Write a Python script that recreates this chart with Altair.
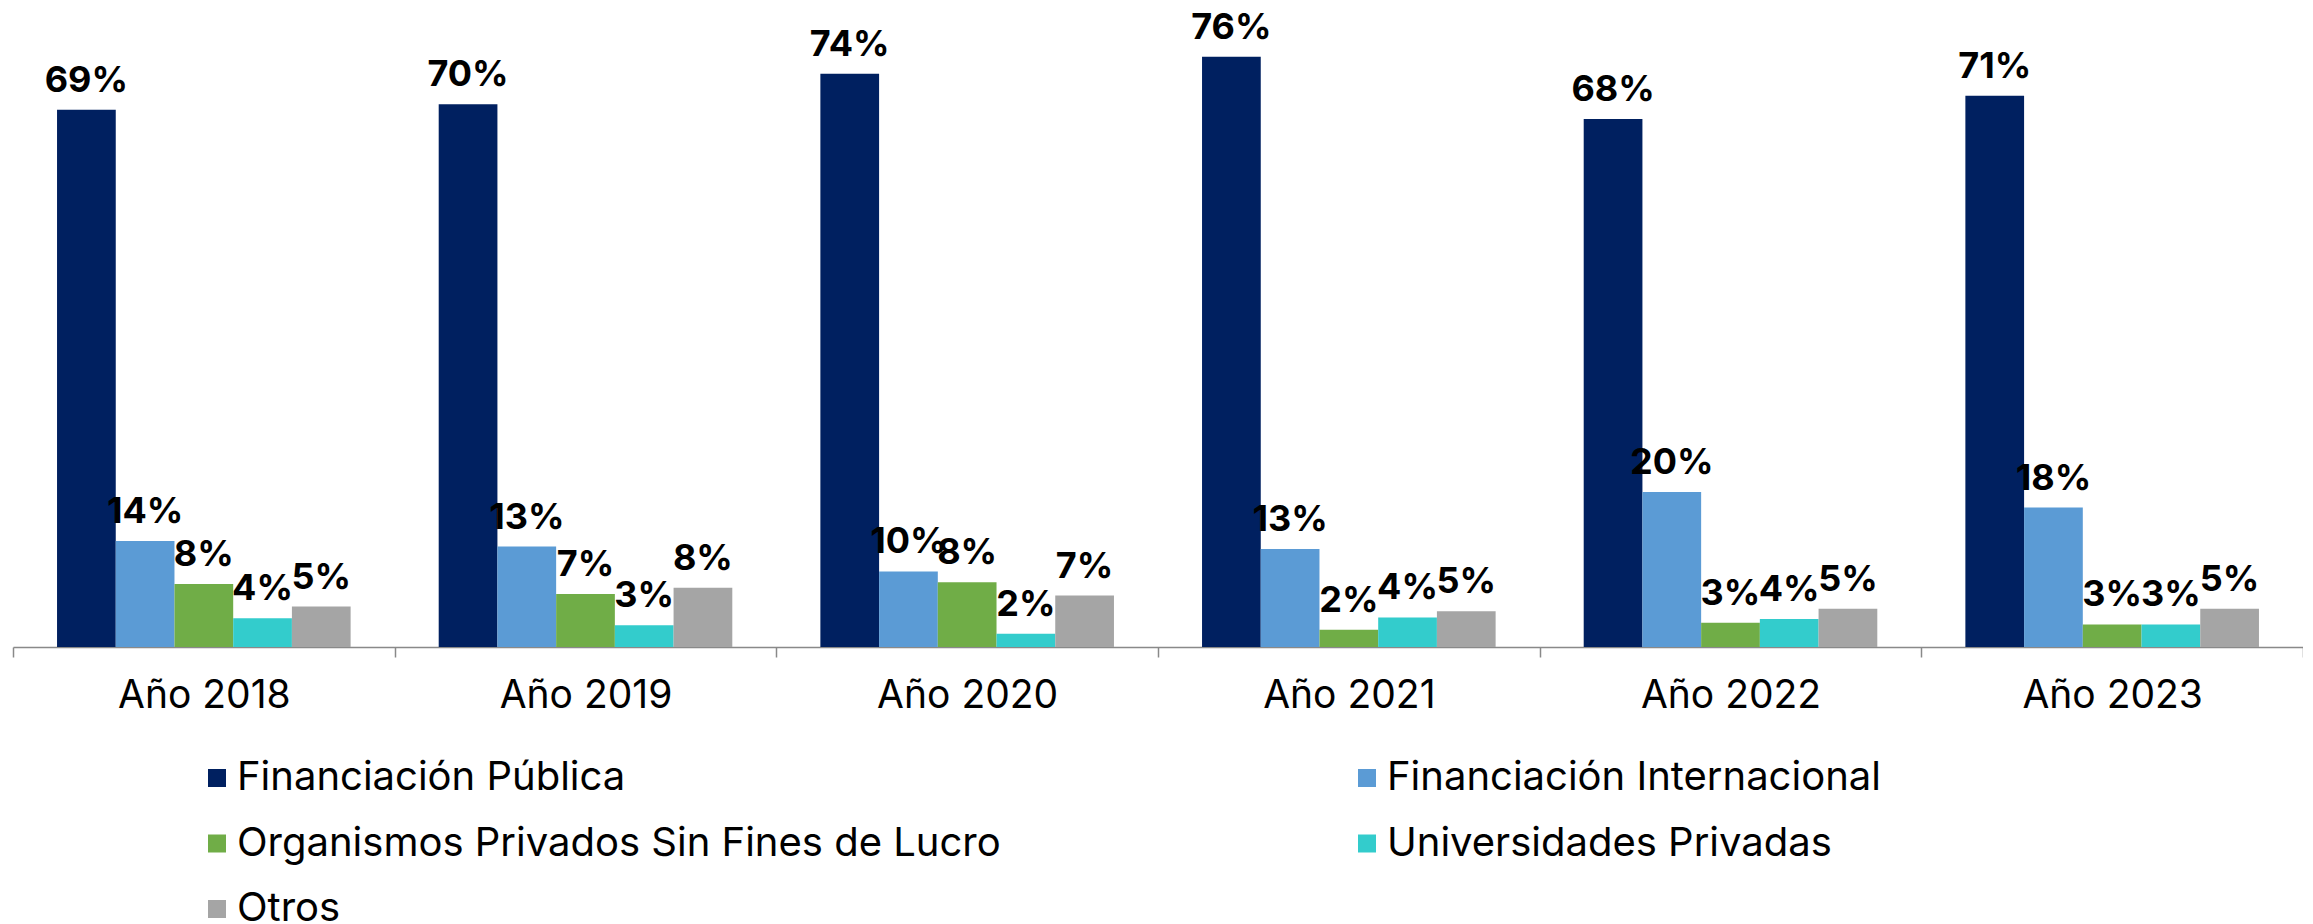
import altair as alt
import pandas as pd

years = ["Año 2018", "Año 2019", "Año 2020", "Año 2021", "Año 2022", "Año 2023"]
series = [
    "Financiación Pública",
    "Financiación Internacional",
    "Organismos Privados Sin Fines de Lucro",
    "Universidades Privadas",
    "Otros",
]
colors = ["#002060", "#5B9BD5", "#70AD47", "#33CCCC", "#A5A5A5"]

publica = [69.0, 69.7, 73.6, 75.8, 67.8, 70.8]
internacional = [13.6, 12.9, 9.7, 12.6, 19.9, 17.9]
organismos = [8.1, 6.8, 8.3, 2.2, 3.1, 2.9]
universidades = [3.7, 2.8, 1.7, 3.8, 3.6, 2.9]
otros = [5.2, 7.6, 6.6, 4.6, 4.9, 4.9]

values = [publica, internacional, organismos, universidades, otros]

rows = []
for s, vals in zip(series, values):
    for y, v in zip(years, vals):
        rows.append({"anio": y, "serie": s, "valor": v, "etiqueta": f"{v:.0f}%"})
df = pd.DataFrame(rows)

FONT = "Inter"

x_enc = alt.X(
    "anio:N",
    sort=years,
    title=None,
    scale=alt.Scale(paddingInner=0, paddingOuter=0),
    axis=alt.Axis(
        domainColor="#898989",
        domainWidth=1.5,
        tickColor="#898989",
        tickWidth=1.5,
        tickSize=10,
        tickBand="extent",
        labelFontSize=39,
        labelFont=FONT,
        labelColor="#000000",
        labelPadding=19,
        labelAngle=0,
        labelLimit=600,
        grid=False,
    ),
)
xoff = alt.XOffset("serie:N", sort=series, scale=alt.Scale(paddingInner=0, paddingOuter=0.75))
y_enc = alt.Y("valor:Q", axis=None, scale=alt.Scale(domain=[0, 80], nice=False, zero=True))

bars = alt.Chart(df).mark_bar().encode(
    x=x_enc,
    xOffset=xoff,
    y=y_enc,
    color=alt.Color(
        "serie:N",
        sort=series,
        scale=alt.Scale(domain=series, range=colors),
        legend=alt.Legend(
            title=None,
            orient="none",
            legendX=184,
            legendY=734,
            columns=2,
            direction="horizontal",
            columnPadding=346,
            rowPadding=25.5,
            symbolType="square",
            symbolSize=324,
            symbolStrokeWidth=0,
            labelFont=FONT,
            labelFontSize=40,
            labelColor="#000000",
            labelOffset=0,
            labelLimit=2000,
            padding=0,
        ),
    ),
)

labels = alt.Chart(df).mark_text(
    font=FONT,
    fontSize=36,
    fontWeight="bold",
    color="#000000",
    baseline="alphabetic",
    align="center",
    dy=-18,
).encode(
    x=alt.X("anio:N", sort=years),
    xOffset=xoff,
    y=y_enc,
    text="etiqueta:N",
)

chart = (
    alt.layer(bars, labels)
    .properties(
        width=2290,
        height=623,
        padding={"left": 5, "top": 16, "right": 0, "bottom": 277},
        autosize=alt.AutoSizeParams(type="none"),
    )
    .configure_view(stroke=None)
)

chart.save("out.html", embed_options={"renderer": "svg", "actions": False})
